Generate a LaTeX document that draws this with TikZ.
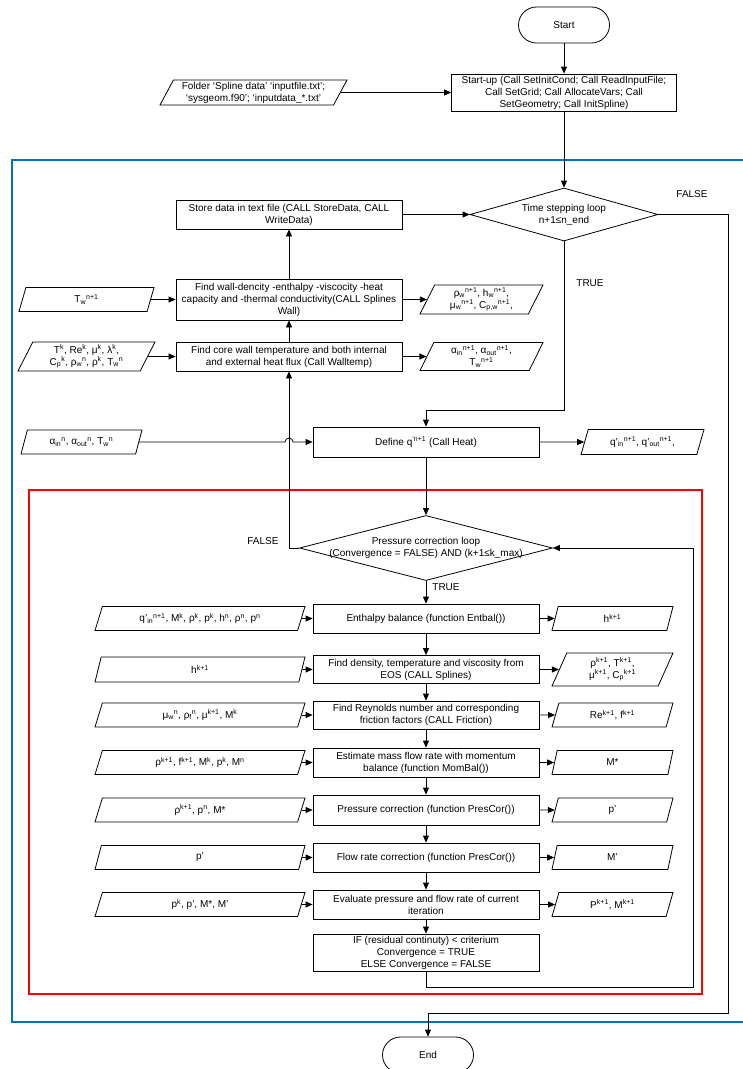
\documentclass[tikz,border=0pt]{standalone}
\usepackage{fontspec}
\setmainfont{Liberation Sans}
\usepackage{tikz}
\usetikzlibrary{arrows.meta, shapes.geometric}
\definecolor{timeloop}{RGB}{0,112,192}
\definecolor{presloop}{RGB}{255,0,0}
\newcommand{\tsup}[1]{\textsuperscript{#1}}
\newcommand{\tsub}[1]{\textsubscript{#1}}

\begin{document}
\begin{tikzpicture}[x=1pt, y=-1pt, line width=0.8pt,
    font=\fontsize{10}{12}\selectfont,
    proc/.style={draw, align=center, inner sep=1pt,
                 minimum width=226pt, minimum height=29pt},
    dataio/.style={draw, trapezium, trapezium left angle=60,
                   trapezium right angle=120, trapezium stretches body=true,
                   align=center, inner sep=1pt, minimum height=24pt},
    term/.style={draw, rounded corners=18pt, minimum width=91pt, minimum height=36pt},
    decision/.style={draw, diamond, inner sep=0pt},
    flow/.style={-{Triangle[length=7pt, width=6pt]}},
    frame/.style={line width=2.6pt}]
  \useasboundingbox (0,0) rectangle (743,1069);

  % the two loop frames
  \draw[frame, timeloop] (748,160) -- (12,160) -- (12,1022) -- (748,1022);
  \draw[frame, presloop] (29,490) rectangle (702,994);

  % start-up
  \node[term] (start) at (564,25) {Start};
  \node[proc, minimum width=225pt, minimum height=37pt] (setup) at (564,92.5)
    {Start-up (Call SetInitCond; Call ReadInputFile;\\Call SetGrid; Call AllocateVars; Call\\SetGeometry; Call InitSpline)};
  \node[dataio, minimum width=187pt, minimum height=25pt] (folder) at (253.5,92.5)
    {Folder `Spline data' `inputfile.txt';\\`sysgeom.f90'; `inputdata\_*.txt'};

  % time stepping loop
  \node[decision, minimum width=188pt, minimum height=53pt,
        label={[align=center]center:Time stepping loop\\n+1≤n\_end}] (tsl) at (564,214.5) {};
  \node (tfalse) at (692,194) {FALSE};
  \node (ttrue) at (590,283) {TRUE};

  \node[proc] (store) at (289,214.5) {Store data in text file (CALL StoreData, CALL\\WriteData)};
  \node[proc, minimum height=41pt] (wall) at (289,299.5)
    {Find wall-dencity -enthalpy -viscocity -heat\\capacity and -thermal conductivity(CALL Splines\\Wall)};
  \node[dataio, minimum width=135pt] (wallin) at (86.5,299.5) {T\tsub{w}\tsup{n+1}};
  \node[dataio, minimum width=123pt, minimum height=29pt] (wallout) at (481.5,299.5)
    {ρ\tsub{w}\tsup{n+1}, h\tsub{w}\tsup{n+1},\\μ\tsub{w}\tsup{n+1}, C\tsub{p,w}\tsup{n+1},};

  \node[proc] (core) at (289,356.5)
    {Find core wall temperature and both internal\\and external heat flux (Call Walltemp)};
  \node[dataio, minimum width=137pt, minimum height=29pt] (corein) at (86.5,356.5)
    {T\tsup{k}, Re\tsup{k}, μ\tsup{k}, λ\tsup{k},\\C\tsub{p}\tsup{k}, ρ\tsub{w}\tsup{n}, ρ\tsup{k}, T\tsub{w}\tsup{n}};
  \node[dataio, minimum width=123pt, minimum height=28pt] (coreout) at (481.5,356.5)
    {α\tsub{in}\tsup{n+1}, α\tsub{out}\tsup{n+1},\\T\tsub{w}\tsup{n+1}};

  \node[proc, minimum height=30pt] (heat) at (426,442) {Define q\tsup{'n+1} (Call Heat)};
  \node[dataio, minimum width=121pt] (heatin) at (81.5,442)
    {α\tsub{in}\tsup{n}, α\tsub{out}\tsup{n}, T\tsub{w}\tsup{n}};
  \node[dataio, minimum width=123pt, minimum height=25pt] (heatout) at (642.5,442)
    {q'\tsub{in}\tsup{n+1}, q'\tsub{out}\tsup{n+1},};

  % pressure correction loop
  \node[decision, minimum width=253pt, minimum height=65pt,
        label={[align=center]center:Pressure correction loop\\(Convergence = FALSE) AND (k+1≤k\_max)}]
    (pcl) at (426,548) {};
  \node (pfalse) at (263,541) {FALSE};
  \node (ptrue) at (446,587) {TRUE};

  \node[proc] (enth) at (426,618.5) {Enthalpy balance (function Entbal())};
  \node[dataio, minimum width=210pt] (enthin) at (200,618.5)
    {q'\tsub{in}\tsup{n+1}, M\tsup{k}, ρ\tsup{k}, p\tsup{k}, h\tsup{n}, ρ\tsup{n}, p\tsup{n}};
  \node[dataio, minimum width=121pt] (enthout) at (612.5,618.5) {h\tsup{k+1}};

  \node[proc, minimum height=28pt] (dens) at (426,669.5)
    {Find density, temperature and viscosity from\\EOS (CALL Splines)};
  \node[dataio, minimum width=210pt, minimum height=25pt] (densin) at (200,669.5) {h\tsup{k+1}};
  \node[dataio, minimum width=121pt, minimum height=33pt] (densout) at (612.5,669.5)
    {ρ\tsup{k+1}, T\tsup{k+1},\\μ\tsup{k+1}, C\tsub{p}\tsup{k+1}};

  \node[proc, minimum height=28pt] (reyn) at (426,715)
    {Find Reynolds number and corresponding\\friction factors (CALL Friction)};
  \node[dataio, minimum width=210pt] (reynin) at (200,715)
    {μ\tsub{w}\tsup{n}, ρ\tsub{f}\tsup{n}, μ\tsup{k+1}, M\tsup{k}};
  \node[dataio, minimum width=121pt] (reynout) at (612.5,715) {Re\tsup{k+1}, f\tsup{k+1}};

  \node[proc] (mom) at (426,762.5)
    {Estimate mass flow rate with momentum\\balance (function MomBal())};
  \node[dataio, minimum width=210pt] (momin) at (200,762.5)
    {ρ\tsup{k+1}, f\tsup{k+1}, M\tsup{k}, p\tsup{k}, M\tsup{n}};
  \node[dataio, minimum width=121pt] (momout) at (612.5,762.5) {M*};

  \node[proc, minimum height=30pt] (pcor) at (426,810) {Pressure correction (function PresCor())};
  \node[dataio, minimum width=210pt] (pcorin) at (200,810) {ρ\tsup{k+1}, p\tsup{n}, M*};
  \node[dataio, minimum width=121pt] (pcorout) at (612.5,810) {p'};

  \node[proc] (mcor) at (426,857.5) {Flow rate correction (function PresCor())};
  \node[dataio, minimum width=210pt] (mcorin) at (200,857.5) {p'};
  \node[dataio, minimum width=121pt] (mcorout) at (612.5,857.5) {M'};

  \node[proc] (eval) at (426,904.5) {Evaluate pressure and flow rate of current\\iteration};
  \node[dataio, minimum width=210pt] (evalin) at (200,904.5) {p\tsup{k}, p', M*, M'};
  \node[dataio, minimum width=121pt] (evalout) at (612.5,904.5) {P\tsup{k+1}, M\tsup{k+1}};

  \node[proc, minimum height=37pt] (conv) at (426,952.5)
    {IF (residual continuty) < criterium\\Convergence = TRUE\\ELSE Convergence = FALSE};

  \node[term] (stop) at (428,1055) {End};

  % connectors, start-up and time loop
  \draw[flow] (start) -- (setup);
  \draw[flow] (folder) -- (setup);
  \draw[flow] (setup) -- (tsl);
  \draw[flow] (store) -- (tsl);
  \draw[flow] (wall) -- (store);
  \draw[flow] (core) -- (wall);
  \draw[flow] (wallin) -- (wall);
  \draw[flow] (wall) -- (wallout);
  \draw[flow] (corein) -- (core);
  \draw[flow] (core) -- (coreout);
  \coordinate (tbend) at (564,410);
  \draw[flow] (tsl.south) -- (tbend) -| (heat.north);
  \coordinate (hopstart) at (285,442);
  \draw[flow] (heatin) -- (hopstart) arc[start angle=180, end angle=360, radius=4] -- (heat.west);
  \draw[flow] (heat) -- (heatout);
  \draw[flow] (heat) -- (pcl);
  \draw[flow] (pcl.west) -| (core.south);

  % connectors, pressure loop
  \draw[flow] (pcl) -- (enth);
  \draw[flow] (enthin) -- (enth);
  \draw[flow] (enth) -- (enthout);
  \draw[flow] (enth) -- (dens);
  \draw[flow] (densin) -- (dens);
  \draw[flow] (dens) -- (densout);
  \draw[flow] (dens) -- (reyn);
  \draw[flow] (reynin) -- (reyn);
  \draw[flow] (reyn) -- (reynout);
  \draw[flow] (reyn) -- (mom);
  \draw[flow] (momin) -- (mom);
  \draw[flow] (mom) -- (momout);
  \draw[flow] (mom) -- (pcor);
  \draw[flow] (pcorin) -- (pcor);
  \draw[flow] (pcor) -- (pcorout);
  \draw[flow] (pcor) -- (mcor);
  \draw[flow] (mcorin) -- (mcor);
  \draw[flow] (mcor) -- (mcorout);
  \draw[flow] (mcor) -- (eval);
  \draw[flow] (evalin) -- (eval);
  \draw[flow] (eval) -- (evalout);
  \draw[flow] (eval) -- (conv);
  \coordinate (pback) at (693,987);
  \draw[flow] (conv.south) |- (pback) |- (pcl.east);

  % FALSE of the time loop ends the run
  \coordinate (tout) at (728,1013);
  \draw[flow] (tsl.east) -| (tout) -| (stop.north);
\end{tikzpicture}
\end{document}
